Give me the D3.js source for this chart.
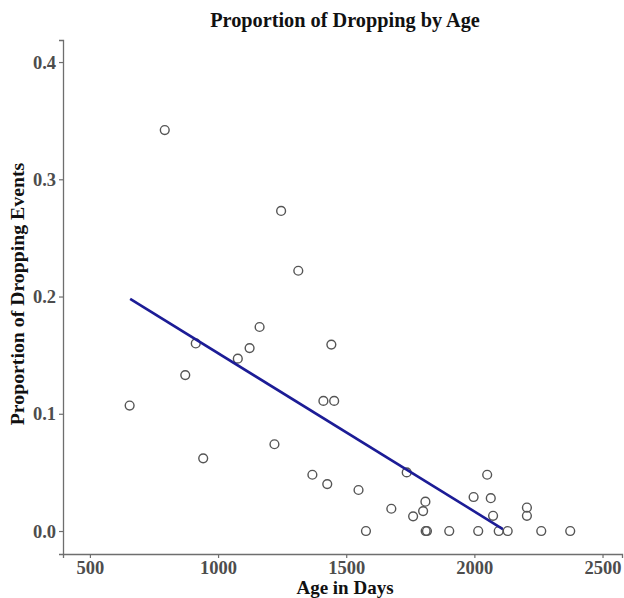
<!DOCTYPE html>
<html>
<head>
<meta charset="utf-8">
<script src="https://cdn.jsdelivr.net/npm/d3@7"></script>
<style>
  html, body { margin: 0; padding: 0; background: #fff; }
  svg { display: block; }
  text { font-family: "Liberation Serif", "Times New Roman", serif; font-weight: bold; }
</style>
</head>
<body>
<svg id="chart" width="624" height="598"></svg>
<script>
// Age of each animal (days) and its proportion of dropping events
const ageDays = [792, 1246, 1313, 1162, 913, 1442, 1123, 1077, 872, 655,
                 1411, 1453, 1220, 942, 1368, 1426, 1548, 1736, 1676, 1761,
                 1800, 1809, 1577, 1810, 1815, 1902, 2015, 2095, 2130, 2261,
                 2374, 1997, 2050, 2064, 2073, 2205, 2205];
const proportion = [0.342, 0.273, 0.222, 0.174, 0.160, 0.159, 0.156, 0.147, 0.133, 0.107,
                    0.111, 0.111, 0.074, 0.062, 0.048, 0.040, 0.035, 0.050, 0.019, 0.0125,
                    0.017, 0.025, 0, 0, 0, 0, 0, 0, 0, 0,
                    0, 0.029, 0.048, 0.028, 0.013, 0.020, 0.013];

// Fitted linear trend, drawn between its two end points
const fitAge = [657, 2111];
const fitProportion = [0.198, 0.0017];

const xTicks = [500, 1000, 1500, 2000, 2500];
const yTicks = [0.0, 0.1, 0.2, 0.3, 0.4];

const svg = d3.select("#chart");
const plotLeft = 63, plotRight = 622, plotTop = 40, plotBottom = 554;

const x = d3.scaleLinear().domain([395, 2576]).range([plotLeft, plotRight]);
const y = d3.scaleLinear().domain([-0.0196, 0.4188]).range([plotBottom, plotTop]);

// Axes
const xAxis = svg.append("g")
  .attr("transform", `translate(0,${plotBottom})`)
  .call(d3.axisBottom(x).tickValues(xTicks).tickFormat(d3.format("d")).tickSize(4).tickPadding(3));
const yAxis = svg.append("g")
  .attr("transform", `translate(${plotLeft},0)`)
  .call(d3.axisLeft(y).tickValues(yTicks).tickFormat(d3.format(".1f")).tickSize(4).tickPadding(3));

[xAxis, yAxis].forEach(g => {
  g.select(".domain").attr("stroke", "#6e6e6e").attr("stroke-width", 1.3);
  g.selectAll(".tick line").attr("stroke", "#6e6e6e").attr("stroke-width", 1.2);
  g.selectAll(".tick text").attr("fill", "#4d4d4d").style("font-size", "18.5px")
    .style("font-family", "'Liberation Serif', 'Times New Roman', serif").style("font-weight", "bold");
});
yAxis.selectAll(".tick text").attr("dy", "0.33em");

// Points
svg.append("g").selectAll("circle")
  .data(ageDays.map((a, i) => [a, proportion[i]]))
  .join("circle")
  .attr("cx", d => x(d[0]))
  .attr("cy", d => y(d[1]))
  .attr("r", 4.4)
  .attr("fill", "none")
  .attr("stroke", "#555")
  .attr("stroke-width", 1.4);

// Trend line
svg.append("path")
  .datum(fitAge.map((a, i) => [a, fitProportion[i]]))
  .attr("d", d3.line().x(d => x(d[0])).y(d => y(d[1])))
  .attr("fill", "none")
  .attr("stroke", "#1c1c96")
  .attr("stroke-width", 2.6);

// Titles
svg.append("text")
  .attr("x", 345).attr("y", 27)
  .attr("text-anchor", "middle")
  .style("font-size", "20.3px")
  .attr("fill", "#111")
  .text("Proportion of Dropping by Age");

svg.append("text")
  .attr("x", 345).attr("y", 594)
  .attr("text-anchor", "middle")
  .style("font-size", "19px")
  .attr("fill", "#111")
  .text("Age in Days");

svg.append("text")
  .attr("transform", "translate(24,294) rotate(-90)")
  .attr("text-anchor", "middle")
  .style("font-size", "19.8px")
  .attr("fill", "#111")
  .text("Proportion of Dropping Events");
</script>
</body>
</html>
